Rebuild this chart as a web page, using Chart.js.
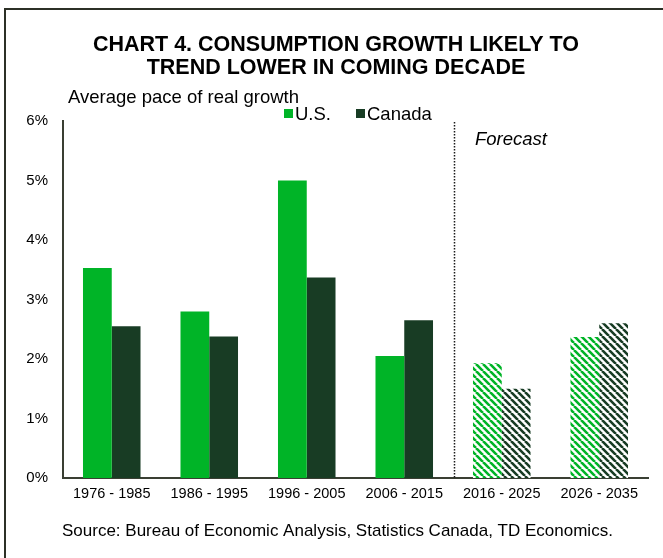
<!DOCTYPE html>
<html>
<head>
<meta charset="utf-8">
<script src="https://cdn.jsdelivr.net/npm/chart.js@4.4.1/dist/chart.umd.min.js"></script>
<style>
  html, body { margin: 0; padding: 0; background: #fff; }
  canvas { display: block; }
</style>
</head>
<body>
<canvas id="consumptionChart" width="663" height="558"></canvas>
<script>
// Chart 4 - consumption growth, U.S. vs Canada
const periods = ['1976 - 1985', '1986 - 1995', '1996 - 2005', '2006 - 2015', '2016 - 2025', '2026 - 2035'];
const usGrowth = [3.53, 2.8, 5.0, 2.05, 1.93, 2.37];
const canadaGrowth = [2.55, 2.38, 3.37, 2.65, 1.5, 2.6];
const yTicks = [0, 1, 2, 3, 4, 5, 6];
const forecastFrom = 4; // index of first forecast period

const usColor = '#00b427';
const canadaColor = '#183c24';
const fontFamily = '"Liberation Sans", Arial, sans-serif';

// diagonal stripes for the forecast bars
function makeStripes(color) {
    const size = 7;
    const c = document.createElement('canvas');
    c.width = size;
    c.height = size;
    const g = c.getContext('2d');
    g.fillStyle = '#fff';
    g.fillRect(0, 0, size, size);
    g.strokeStyle = color;
    g.lineWidth = 2.6;
    g.beginPath();
    [-size, 0, size].forEach(off => {
        g.moveTo(off, 0);
        g.lineTo(off + size, size);
    });
    g.stroke();
    return g.createPattern(c, 'repeat');
}

const usStripes = makeStripes(usColor);
const canadaStripes = makeStripes(canadaColor);

// frame, titles, legend and forecast divider
const decorPlugin = {
    id: 'decor',
    beforeDraw(chart) {
        const ctx = chart.ctx;
        ctx.save();
        ctx.fillStyle = '#fff';
        ctx.fillRect(0, 0, chart.width, chart.height);
        ctx.strokeStyle = '#2c3026';
        ctx.lineWidth = 2;
        ctx.beginPath();
        ctx.moveTo(5, chart.height);
        ctx.lineTo(5, 9);
        ctx.lineTo(chart.width, 9);
        ctx.stroke();
        ctx.restore();
    },
    afterDatasetsDraw(chart) {
        const ctx = chart.ctx;
        const x = chart.scales.x;
        const area = chart.chartArea;
        const divX = Math.round(x.getPixelForValue(forecastFrom - 0.5)) + 1.5;

        ctx.save();
        ctx.strokeStyle = '#1a1a1a';
        ctx.lineWidth = 1.5;
        ctx.setLineDash([1.5, 1.5]);
        ctx.beginPath();
        ctx.moveTo(divX, area.top + 1);
        ctx.lineTo(divX, area.bottom);
        ctx.stroke();
        ctx.setLineDash([]);

        ctx.fillStyle = '#000';
        ctx.textBaseline = 'middle';

        ctx.font = 'bold 21.5px ' + fontFamily;
        ctx.textAlign = 'center';
        ctx.fillText('CHART 4. CONSUMPTION GROWTH LIKELY TO', 336, 45);
        ctx.fillText('TREND LOWER IN COMING DECADE', 336, 68);

        ctx.font = '18.5px ' + fontFamily;
        ctx.textAlign = 'left';
        ctx.fillText('Average pace of real growth', 68, 98);

        // legend
        const ds = chart.data.datasets;
        ctx.fillStyle = ds[0].legendColor;
        ctx.fillRect(284, 109, 9, 9);
        ctx.fillStyle = '#000';
        ctx.fillText(ds[0].label, 295, 115);
        ctx.fillStyle = ds[1].legendColor;
        ctx.fillRect(356, 109, 9, 9);
        ctx.fillStyle = '#000';
        ctx.fillText(ds[1].label, 367, 115);

        ctx.font = 'italic 18.5px ' + fontFamily;
        ctx.fillText('Forecast', 475, 140);

        ctx.font = '17px ' + fontFamily;
        ctx.fillText('Source: Bureau of Economic Analysis, Statistics Canada, TD Economics.', 62, 531);
        ctx.restore();
    }
};

const ctx = document.getElementById('consumptionChart').getContext('2d');

new Chart(ctx, {
    type: 'bar',
    data: {
        labels: periods,
        datasets: [
            {
                label: 'U.S.',
                data: usGrowth,
                legendColor: usColor,
                backgroundColor: c => c.dataIndex >= forecastFrom ? usStripes : usColor,
                borderWidth: 0
            },
            {
                label: 'Canada',
                data: canadaGrowth,
                legendColor: canadaColor,
                backgroundColor: c => c.dataIndex >= forecastFrom ? canadaStripes : canadaColor,
                borderWidth: 0
            }
        ]
    },
    options: {
        responsive: false,
        animation: false,
        devicePixelRatio: 1,
        layout: {
            padding: { top: 121, right: 15, bottom: 50, left: 0 }
        },
        datasets: {
            bar: {
                categoryPercentage: 0.59,
                barPercentage: 1
            }
        },
        plugins: {
            legend: { display: false },
            title: { display: false },
            tooltip: { enabled: false }
        },
        scales: {
            x: {
                grid: { display: false, drawTicks: false },
                border: { display: true, color: '#3a3f33', width: 2 },
                ticks: {
                    color: '#000',
                    padding: 7,
                    maxRotation: 0,
                    autoSkip: false,
                    font: { family: fontFamily, size: 14.5 }
                },
                afterFit: s => { s.height = 30; }
            },
            y: {
                min: 0,
                max: 6,
                grid: { display: false, drawTicks: false },
                border: { display: true, color: '#3a3f33', width: 2 },
                afterBuildTicks: s => { s.ticks = yTicks.map(v => ({ value: v })); },
                ticks: {
                    color: '#000',
                    padding: 15,
                    font: { family: fontFamily, size: 15 },
                    callback: v => v + '%'
                },
                afterFit: s => { s.width = 63; }
            }
        }
    },
    plugins: [decorPlugin]
});
</script>
</body>
</html>
